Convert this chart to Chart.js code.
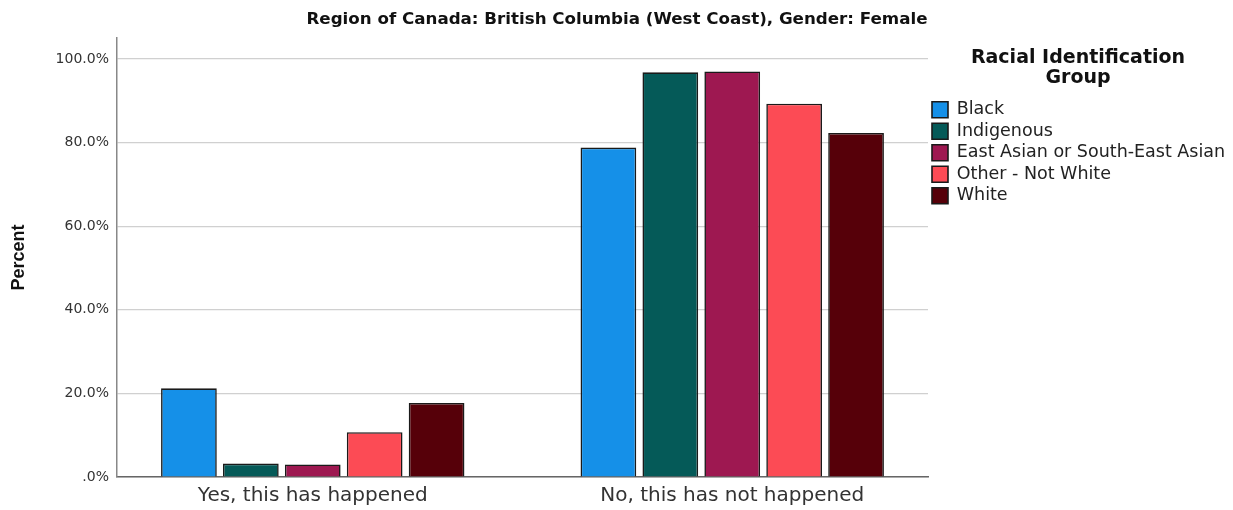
<!DOCTYPE html>
<html>
<head>
<meta charset="utf-8">
<script src="https://cdn.jsdelivr.net/npm/chart.js@4.4.0/dist/chart.umd.min.js"></script>
<style>
  html, body { margin: 0; padding: 0; background: #fff; }
  #wrap { width: 1233px; height: 510px; }
</style>
</head>
<body>
<div id="wrap"><canvas id="myChart"></canvas></div>
<script>
// categories on the x axis
const categories = ['Yes, this has happened', 'No, this has not happened'];

// percent per racial group, one value per category
const groups = ['Black', 'Indigenous', 'East Asian or South-East Asian', 'Other - Not White', 'White'];
const black = [21.2, 78.8];
const indigenous = [3.2, 96.8];
const eastAsian = [3.0, 97.0];
const otherNotWhite = [10.7, 89.3];
const white = [17.7, 82.3];

const yTicks = [0, 20, 40, 60, 80, 100];

const colors = ['#1590e8', '#055a58', '#9e1851', '#fc4b55', '#560009'];

const seriesValues = [black, indigenous, eastAsian, otherNotWhite, white];

const datasets = groups.map((name, i) => ({
    label: name,
    data: seriesValues[i].map((v, j) => ({ x: j, y: v })),
    backgroundColor: colors[i],
    borderColor: '#1a1a1a',
    borderWidth: 1.6,
    categoryPercentage: 0.738,
    barPercentage: 0.9
}));

const ctx = document.getElementById('myChart').getContext('2d');
const chart = new Chart(ctx, {
    type: 'bar',
    data: { datasets: datasets },
    options: {
        responsive: true,
        maintainAspectRatio: false,
        animation: false,
        layout: { padding: { left: 6, right: 5, top: 0, bottom: -5 } },
        plugins: {
            tooltip: { enabled: false },
            title: {
                display: true,
                text: 'Region of Canada: British Columbia (West Coast), Gender: Female',
                color: '#111',
                font: { family: 'DejaVu Sans', size: 16.7, weight: 'bold' },
                padding: { top: 10, bottom: 8 }
            },
            legend: {
                position: 'right',
                align: 'start',
                maxWidth: 300,
                title: {
                    display: true,
                    text: ['Racial Identification', 'Group'],
                    color: '#111',
                    font: { family: 'DejaVu Sans', size: 19, weight: 'bold', lineHeight: 1.05 },
                    padding: { top: 49, bottom: 28 }
                },
                labels: {
                    color: '#222',
                    font: { family: 'DejaVu Sans', size: 17.5 },
                    boxWidth: 16,
                    boxHeight: 16,
                    padding: 4
                }
            }
        },
        scales: {
            x: {
                type: 'linear',
                offset: false,
                min: -0.4667,
                max: 1.4667,
                afterBuildTicks: scale => { scale.ticks = [{ value: 0 }, { value: 1 }]; },
                grid: { display: false, drawTicks: false },
                border: { color: '#666', width: 1.5 },
                ticks: {
                    color: '#333',
                    font: { family: 'DejaVu Sans', size: 20 },
                    padding: 7,
                    maxRotation: 0,
                    callback: v => categories[v]
                }
            },
            y: {
                min: 0,
                max: 105,
                afterBuildTicks: scale => { scale.ticks = yTicks.map(v => ({ value: v })); },
                grid: { color: '#d0d0d0', lineWidth: 1.2, drawTicks: false },
                border: { color: '#888', width: 1.5 },
                title: {
                    display: true,
                    text: 'Percent',
                    color: '#111',
                    font: { family: 'Liberation Sans, Arial', size: 18, weight: 'bold' },
                    padding: { top: 2, bottom: 18 }
                },
                ticks: {
                    color: '#333',
                    font: { family: 'DejaVu Sans', size: 14 },
                    padding: 8,
                    callback: v => (v === 0 ? '.0%' : v.toFixed(1) + '%')
                }
            }
        }
    }
});
</script>
</body>
</html>
